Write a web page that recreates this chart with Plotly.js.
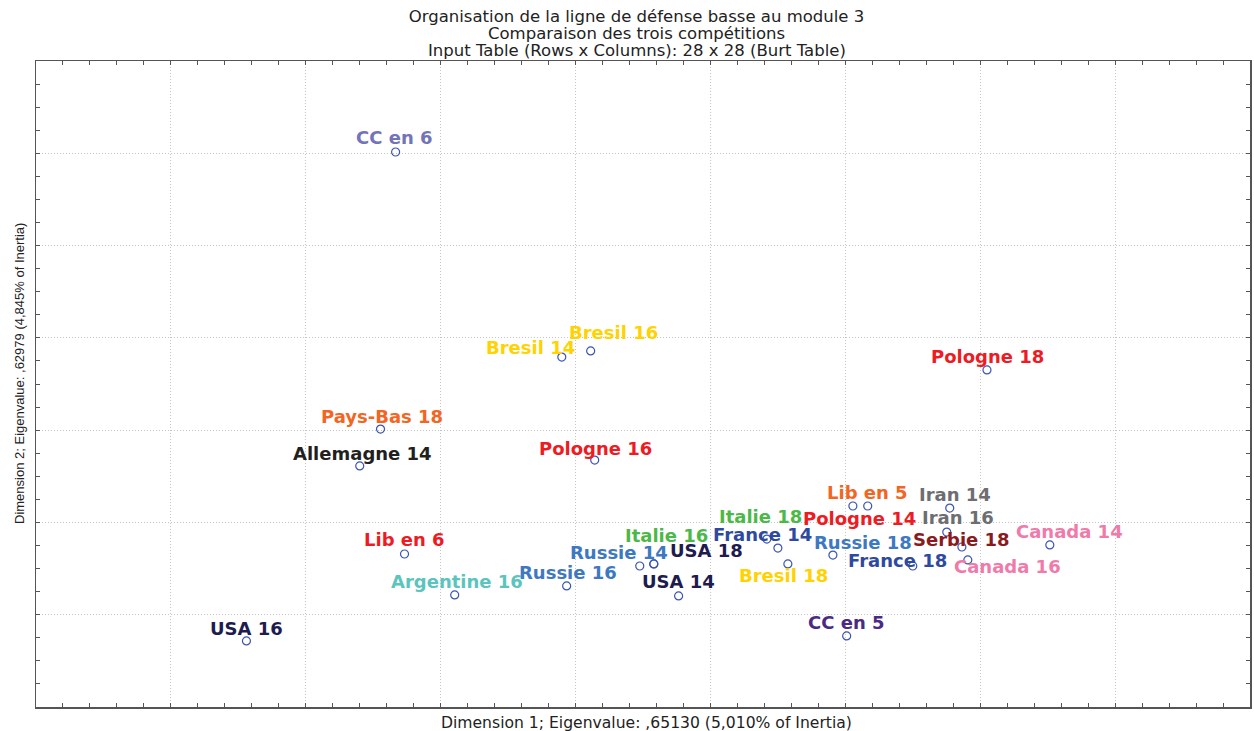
<!DOCTYPE html>
<html>
<head>
<meta charset="utf-8">
<script src="https://cdn.plot.ly/plotly-3.0.1.min.js"></script>
<style>
  html, body { margin: 0; padding: 0; background: #fff; }
  #chart { width: 1254px; height: 731px; }
</style>
</head>
<body>
<div id="chart"></div>
<script>
// Category labels (28 categories of the Burt table)
const categories = [
  "CC en 6", "Bresil 14", "Bresil 16", "Pologne 18", "Pays-Bas 18", "Allemagne 14",
  "Pologne 16", "Lib en 5", "Pologne 14", "Iran 14", "Iran 16", "Serbie 18",
  "Canada 14", "Canada 16", "France 18", "Russie 18", "France 14", "Italie 18",
  "Bresil 18", "Russie 14", "Italie 16", "USA 18", "USA 14", "Russie 16",
  "Argentine 16", "Lib en 6", "USA 16", "CC en 5"
];
// Dimension 1 coordinates
const dim1 = [
  -1.167, -0.551, -0.444, 1.025, -1.223, -1.300,
  -0.429, 0.583, 0.528, 0.887, 0.876, 0.932,
  1.258, 0.954, 0.750, 0.454, 0.250, 0.209,
  0.287, -0.262, -0.210, -0.210, -0.118, -0.533,
  -0.948, -1.134, -1.720, 0.505
];
// Dimension 2 coordinates
const dim2 = [
  2.007, 0.896, 0.929, 0.826, 0.506, 0.306,
  0.338, 0.089, 0.089, 0.078, -0.052, -0.133,
  -0.122, -0.203, -0.236, -0.177, -0.139, -0.090,
  -0.225, -0.236, -0.225, -0.225, -0.398, -0.344,
  -0.393, -0.171, -0.642, -0.615
];
const xTitle = "Dimension 1; Eigenvalue: ,65130 (5,010% of Inertia)";
const yTitle = "Dimension 2; Eigenvalue: ,62979 (4,845% of Inertia)";
const titleLines = [
  "Organisation de la ligne de défense basse au module 3",
  "Comparaison des trois compétitions",
  "Input Table (Rows x Columns): 28 x 28 (Burt Table)"
];

// Styles (label colours and label pixel offsets, screen coords: +x right, +y down)
const RED = "#ED1C24", ORANGE = "#F26522", GOLD = "#FFD200", GREY = "#6D6E71",
      PINK = "#F07AAA", FBLUE = "#2E4A9E", RBLUE = "#3D78C1", GREEN = "#4DB848",
      NAVY = "#1E1B4F";
const labelColors = [
  "#7373B9", GOLD, GOLD, RED, ORANGE, "#231F20",
  RED, ORANGE, RED, GREY, GREY, "#8B1A1E",
  PINK, PINK, FBLUE, RBLUE, FBLUE, GREEN,
  GOLD, RBLUE, GREEN, NAVY, NAVY, RBLUE,
  "#5BC5BD", RED, NAVY, "#4B2A84"
];
const labelShift = [
  [-1,-14], [-31,-10], [23,-18], [1,-13], [1,-13], [3,-12],
  [1,-12], [0,-14], [7,12], [5,-14], [11,-15], [0,-7],
  [20,-13], [40,7], [-15,-5], [30,-13], [-15,-14], [-6,-23],
  [-4,12], [-21,-13], [13,-28], [53,-13], [0,-14], [1,-13],
  [2,-13], [0,-14], [0,-12], [0,-13]
];
const TXT = "DejaVu Sans, Liberation Sans, Arial, sans-serif";
const TCOL = "#222";

const trace = {
  type: "scatter",
  mode: "markers",
  x: dim1,
  y: dim2,
  text: categories,
  hoverinfo: "text",
  marker: { symbol: "circle-open", size: 8, color: "#3A55B0", line: { width: 1.2, color: "#3A55B0" } },
  showlegend: false
};

const annotations = categories.map((c, i) => ({
  x: dim1[i], y: dim2[i], xref: "x", yref: "y",
  text: c, showarrow: false,
  xanchor: "center", yanchor: "middle",
  xshift: labelShift[i][0], yshift: -labelShift[i][1],
  font: { family: "DejaVu Sans", size: 18, color: labelColors[i], weight: "bold" }
}));
// subtitle lines
[1, 2].forEach((k, j) => {
  annotations.push({
    xref: "paper", yref: "paper", x: (636.5 - 36) / 1214, y: 1,
    xanchor: "center", yanchor: "middle",
    yshift: 61 - [33, 50][j],
    text: titleLines[k], showarrow: false,
    font: { family: TXT, size: 16.5, color: TCOL }
  });
});
// y-axis title
annotations.push({
  xref: "paper", yref: "paper", x: 0, y: (707 - 374) / 646, xshift: -17,
  xanchor: "center", yanchor: "middle", textangle: -90,
  text: yTitle, showarrow: false,
  font: { family: "Liberation Sans, Arial, sans-serif", size: 13, color: TCOL }
});
// x-axis title
annotations.push({
  xref: "paper", yref: "paper", x: (646 - 36) / 1214, y: 0, yshift: -16,
  xanchor: "center", yanchor: "middle",
  text: xTitle, showarrow: false,
  font: { family: TXT, size: 15.6, color: TCOL }
});

const axisCommon = {
  showticklabels: false,
  showline: true, linecolor: "#555", linewidth: 1.5, mirror: "ticks",
  ticks: "inside", ticklen: 4, tickcolor: "#555", tickwidth: 1,
  showgrid: true, gridcolor: "#C4C4C4", griddash: "1px,2px", gridwidth: 1,
  zeroline: false
};

const layout = {
  width: 1254, height: 731,
  paper_bgcolor: "#fff", plot_bgcolor: "#fff",
  margin: { l: 36, r: 4, t: 61, b: 24 },
  font: { family: TXT, size: 15, color: TCOL },
  title: {
    text: titleLines[0],
    xref: "container", x: 636.5 / 1254, xanchor: "center",
    yref: "container", y: 1 - 16 / 731, yanchor: "middle",
    font: { family: TXT, size: 16.5, color: TCOL }
  },
  xaxis: Object.assign({}, axisCommon, {
    range: [-2.5, 2.0], dtick: 0.5, tick0: 0,
    minor: { dtick: 0.1, ticks: "inside", ticklen: 4, tickcolor: "#555", showgrid: false }
  }),
  yaxis: Object.assign({}, axisCommon, {
    range: [-1.0, 2.5], dtick: 0.5, tick0: 0,
    minor: { dtick: 0.125, ticks: "inside", ticklen: 4, tickcolor: "#555", showgrid: false }
  }),
  annotations: annotations
};

Plotly.newPlot("chart", [trace], layout, { displayModeBar: false, staticPlot: true });
</script>
</body>
</html>
